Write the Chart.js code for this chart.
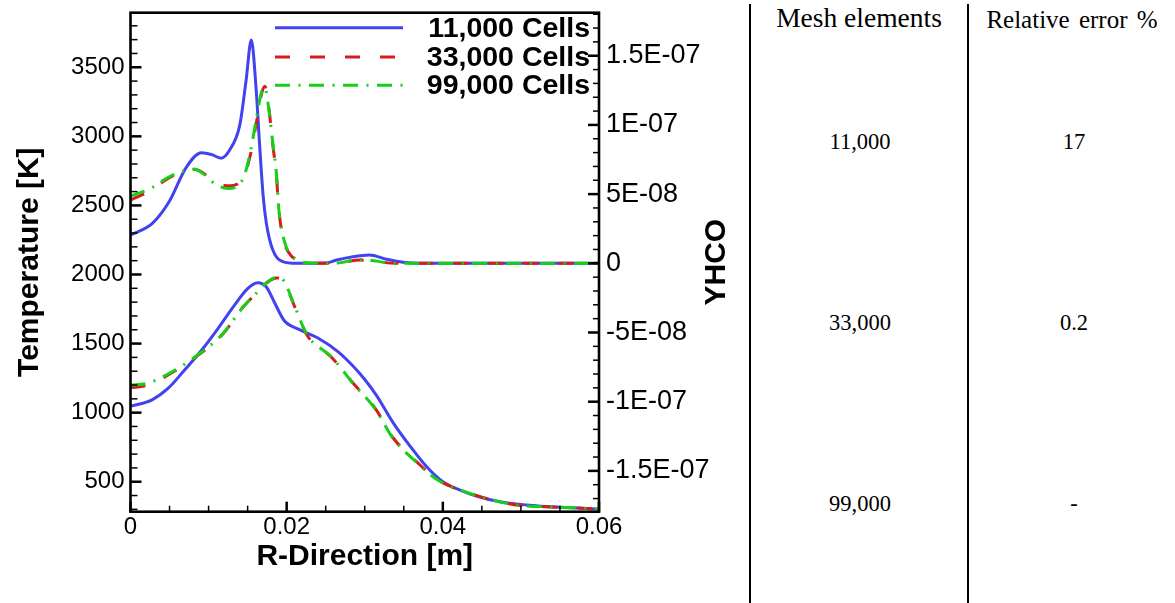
<!DOCTYPE html>
<html>
<head>
<meta charset="utf-8">
<script src="https://cdn.jsdelivr.net/npm/chart.js@4.4.0/dist/chart.umd.min.js"></script>
<style>
body { margin: 0; background: #fff; width: 1175px; height: 603px; overflow: hidden; position: relative; font-family: 'Liberation Serif', 'Times New Roman', serif; }
#chartBox { position: absolute; left: 0; top: 0; width: 750px; height: 603px; }
.vline { position: absolute; top: 4px; height: 599px; width: 2.6px; background: #000; }
.cell { position: absolute; width: 200px; margin-left: -100px; text-align: center; color: #000; white-space: nowrap; line-height: 1; }
</style>
</head>
<body>
<div id="chartBox"><canvas id="myChart" width="750" height="603"></canvas></div>
<div class="vline" style="left:748.5px"></div>
<div class="vline" style="left:966.7px"></div>
<div id="table"></div>
<script>
// YHCO, 11,000 cells
var rHco11 = [0, 0.0028, 0.005, 0.0071, 0.0091, 0.0104, 0.0116, 0.0127, 0.0140, 0.0148, 0.01547, 0.0161, 0.01654, 0.0170, 0.0174, 0.0182, 0.0195, 0.0212, 0.025, 0.0264, 0.0285, 0.0306, 0.0328, 0.0349, 0.0371, 0.06];
var hco11k = [2.04e-8, 2.89e-8, 4.5e-8, 6.9e-8, 7.99e-8, 7.85e-8, 7.6e-8, 8.19e-8, 1.0e-7, 1.32e-7, 1.613e-7, 1.25e-7, 8.5e-8, 4.8e-8, 2.9e-8, 1.0e-8, 1.2e-9, 0, 2e-10, 2.4e-9, 4.8e-9, 6e-9, 2.9e-9, 7e-10, 0, 0];
// YHCO, 33,000 / 99,000 cells
var rHcoFine = [0, 0.0027, 0.0048, 0.0067, 0.0082, 0.0095, 0.0108, 0.0125, 0.0144, 0.0153, 0.0161, 0.0168, 0.0172, 0.0177, 0.0182, 0.0187, 0.0190, 0.0197, 0.0205, 0.0213, 0.0225, 0.026, 0.0295, 0.034, 0.06];
var hco33k = [4.57e-8, 5.3e-8, 6.14e-8, 6.62e-8, 6.79e-8, 6.45e-8, 5.9e-8, 5.6e-8, 6.14e-8, 7.7e-8, 1.01e-7, 1.228e-7, 1.28e-7, 1.131e-7, 8.67e-8, 6.26e-8, 3.85e-8, 1.5e-8, 6e-9, 2.5e-9, 3e-10, 0, 2.3e-9, 0, 0];
var hco99k = [4.85e-8, 5.45e-8, 6.2e-8, 6.65e-8, 6.8e-8, 6.4e-8, 5.75e-8, 5.4e-8, 6.1e-8, 7.9e-8, 1.04e-7, 1.24e-7, 1.27e-7, 1.12e-7, 8.8e-8, 6.4e-8, 3.9e-8, 1.6e-8, 6.5e-9, 2.8e-9, 4e-10, 0, 2.8e-9, 0, 0];
// Temperature, 11,000 cells
var rTemp11 = [0, 0.0027, 0.0048, 0.0069, 0.0091, 0.0112, 0.0133, 0.0150, 0.0163, 0.0174, 0.0185, 0.0197, 0.0215, 0.0240, 0.0266, 0.0287, 0.0300, 0.0315, 0.0336, 0.0358, 0.0379, 0.0400, 0.0422, 0.0443, 0.0473, 0.0507, 0.0550, 0.0600];
var temp11k = [1047, 1091, 1175, 1307, 1452, 1609, 1777, 1898, 1941, 1910, 1790, 1665, 1605, 1540, 1440, 1325, 1240, 1125, 930, 758, 610, 500, 440, 397, 355, 332, 315, 303];
// Temperature, 33,000 / 99,000 cells
var rTempFine = [0, 0.0020, 0.0045, 0.0084, 0.0118, 0.0145, 0.0163, 0.0176, 0.0187, 0.0197, 0.0207, 0.0226, 0.0258, 0.0285, 0.0314, 0.0336, 0.0368, 0.0394, 0.0430, 0.0486, 0.0550, 0.0600];
var temp33k = [1180, 1195, 1262, 1405, 1568, 1770, 1873, 1946, 1975, 1946, 1812, 1562, 1398, 1214, 1026, 820, 636, 512, 425, 339, 315, 303];
var temp99k = [1200, 1210, 1270, 1408, 1570, 1770, 1875, 1950, 1978, 1950, 1818, 1566, 1400, 1212, 1022, 816, 632, 510, 425, 339, 315, 303];

var seriesNames = ['11,000 Cells', '33,000 Cells', '99,000 Cells'];
var rTicks = [0, 0.02, 0.04, 0.06];
var tempTicks = [500, 1000, 1500, 2000, 2500, 3000, 3500];
var hcoTicks = [-1.5e-7, -1e-7, -5e-8, 0, 5e-8, 1e-7, 1.5e-7];

var meshElements = ['11,000', '33,000', '99,000'];
var relError = ['17', '0.2', '-'];

var lineColors = ['rgb(66,66,240)', 'rgb(214,28,28)', 'rgb(22,208,22)'];
var lineDashes = [[], [15, 20], [15, 8.5, 2, 8.5]];
var sansFont = '"Liberation Sans", Arial, sans-serif';

function pts(xs, ys) {
    return xs.map(function (x, i) { return { x: x, y: ys[i] }; });
}

function fmtHco(v) {
    if (Math.abs(v) < 1e-12) return '0';
    var e = Math.floor(Math.log10(Math.abs(v)) + 1e-9);
    var m = Math.round(v / Math.pow(10, e) * 10) / 10;
    return m + 'E-' + String(-e).padStart(2, '0');
}

function makeSet(data, idx, axis) {
    return {
        label: seriesNames[idx],
        data: data,
        yAxisID: axis,
        borderColor: lineColors[idx],
        borderDash: lineDashes[idx],
        borderWidth: 3,
        pointRadius: 0,
        fill: false,
        cubicInterpolationMode: 'monotone',
        order: 3 - idx
    };
}

function noEdgePadding(sc) {
    sc.paddingTop = 0;
    sc.paddingBottom = 0;
}

// frame + inward ticks like the original plot
var frameTicks = {
    id: 'frameTicks',
    afterDatasetsDraw: function (chart) {
        var ctx = chart.ctx, a = chart.chartArea, s = chart.scales;
        ctx.save();
        ctx.strokeStyle = '#000';
        function tick(x1, y1, x2, y2, major) {
            ctx.lineWidth = major ? 2.5 : 1.5;
            ctx.beginPath(); ctx.moveTo(x1, y1); ctx.lineTo(x2, y2); ctx.stroke();
        }
        var i, p, major;
        for (i = 0; i <= 12; i++) {
            p = s.x.getPixelForValue(i * 0.005);
            major = i % 4 === 0;
            tick(p, a.bottom, p, a.bottom - (major ? 10 : 6), major);
        }
        for (i = 3; i <= 38; i++) {
            var t = i * 100;
            if (t < s.yT.min || t > s.yT.max) continue;
            p = s.yT.getPixelForValue(t);
            major = i % 5 === 0;
            tick(a.left, p, a.left + (major ? 11 : 7), p, major);
        }
        for (i = -17; i <= 18; i++) {
            var v = i * 1e-8;
            if (v < s.yH.min || v > s.yH.max) continue;
            p = s.yH.getPixelForValue(v);
            major = i % 5 === 0;
            tick(a.right, p, a.right - (major ? 11 : 6), p, major);
        }
        ctx.lineWidth = 2.6;
        ctx.strokeRect(a.left, a.top, a.right - a.left, a.bottom - a.top);

        // legend in the upper right corner
        var rows = [15, 44.3, 72.6];
        ctx.font = 'bold 28.5px ' + sansFont;
        ctx.textAlign = 'right';
        ctx.textBaseline = 'middle';
        ctx.fillStyle = '#000';
        for (i = 0; i < 3; i++) {
            var y = a.top + rows[i];
            ctx.strokeStyle = lineColors[i];
            ctx.lineWidth = 3;
            ctx.setLineDash(lineDashes[i]);
            ctx.beginPath(); ctx.moveTo(a.right - 324, y); ctx.lineTo(a.right - 196, y); ctx.stroke();
            ctx.setLineDash([]);
            ctx.fillText(seriesNames[i], a.right - 9, y + 1);
        }

        // right axis title, reads bottom to top
        ctx.save();
        ctx.translate(717, (a.top + a.bottom) / 2);
        ctx.rotate(-Math.PI / 2);
        ctx.textAlign = 'center';
        ctx.font = 'bold 30px ' + sansFont;
        ctx.fillText('YHCO', 0, 0);
        ctx.restore();
        ctx.restore();
    }
};

var ctx = document.getElementById('myChart');

new Chart(ctx, {
    type: 'line',
    data: {
        datasets: [
            makeSet(pts(rTemp11, temp11k), 0, 'yT'),
            makeSet(pts(rTempFine, temp33k), 1, 'yT'),
            makeSet(pts(rTempFine, temp99k), 2, 'yT'),
            makeSet(pts(rHco11, hco11k), 0, 'yH'),
            makeSet(pts(rHcoFine, hco33k), 1, 'yH'),
            makeSet(pts(rHcoFine, hco99k), 2, 'yH')
        ]
    },
    plugins: [frameTicks],
    options: {
        responsive: false,
        animation: false,
        devicePixelRatio: 1,
        layout: { padding: { top: 12.7, left: 0, right: 0, bottom: 0 } },
        plugins: { legend: { display: false }, tooltip: { enabled: false } },
        scales: {
            x: {
                type: 'linear',
                min: 0,
                max: 0.06,
                grid: { display: false, drawTicks: false },
                border: { display: false },
                afterBuildTicks: function (sc) { sc.ticks = rTicks.map(function (v) { return { value: v }; }); },
                afterFit: function (sc) { sc.height = 603 - 511.7; },
                ticks: {
                    padding: 4,
                    color: '#000',
                    font: { family: sansFont, size: 24, lineHeight: 1 },
                    callback: function (v) { return v === 0 ? '0' : String(Math.round(v * 100) / 100); }
                },
                title: {
                    display: true,
                    text: 'R-Direction [m]',
                    color: '#000',
                    padding: { top: 0, bottom: 28 },
                    font: { family: sansFont, size: 30, weight: 'bold' }
                }
            },
            yT: {
                type: 'linear',
                position: 'left',
                min: 283,
                max: 3895,
                grid: { display: false, drawTicks: false },
                border: { display: false },
                afterBuildTicks: function (sc) { sc.ticks = tempTicks.map(function (v) { return { value: v }; }); },
                afterFit: function (sc) { sc.width = 130.5; noEdgePadding(sc); },
                ticks: {
                    padding: 6,
                    color: '#000',
                    font: { family: sansFont, size: 24, lineHeight: 1 },
                    callback: function (v) { return String(v); }
                },
                title: {
                    display: true,
                    text: 'Temperature [K]',
                    color: '#000',
                    padding: { top: 12, bottom: 0 },
                    font: { family: sansFont, size: 30, weight: 'bold' }
                }
            },
            yH: {
                type: 'linear',
                position: 'right',
                min: -1.795e-7,
                max: 1.811e-7,
                grid: { display: false, drawTicks: false },
                border: { display: false },
                afterBuildTicks: function (sc) { sc.ticks = hcoTicks.map(function (v) { return { value: v }; }); },
                afterFit: function (sc) { sc.width = 750 - 599; noEdgePadding(sc); },
                ticks: {
                    padding: 7,
                    color: '#000',
                    font: { family: sansFont, size: 27, lineHeight: 1 },
                    callback: function (v) { return fmtHco(v); }
                },
                title: { display: false }
            }
        }
    }
});

// the table on the right
var table = document.getElementById('table');
function addCell(text, cx, top, size, extra) {
    var d = document.createElement('div');
    d.className = 'cell';
    d.textContent = text;
    d.style.left = cx + 'px';
    d.style.top = top + 'px';
    d.style.fontSize = size + 'px';
    if (extra) d.style.wordSpacing = extra;
    table.appendChild(d);
}
addCell('Mesh elements', 859, 26.7 - 0.8375 * 27.5, 27.5);
addCell('Relative error %', 1072, 28.3 - 0.8375 * 25, 25, '3px');
var rowBase = [150, 330.7, 511.7];
meshElements.forEach(function (m, i) {
    addCell(m, 860, rowBase[i] - 0.8375 * 22.5, 22.5);
    addCell(relError[i], 1074, rowBase[i] - 0.8375 * 22.5, 22.5);
});
</script>
</body>
</html>
